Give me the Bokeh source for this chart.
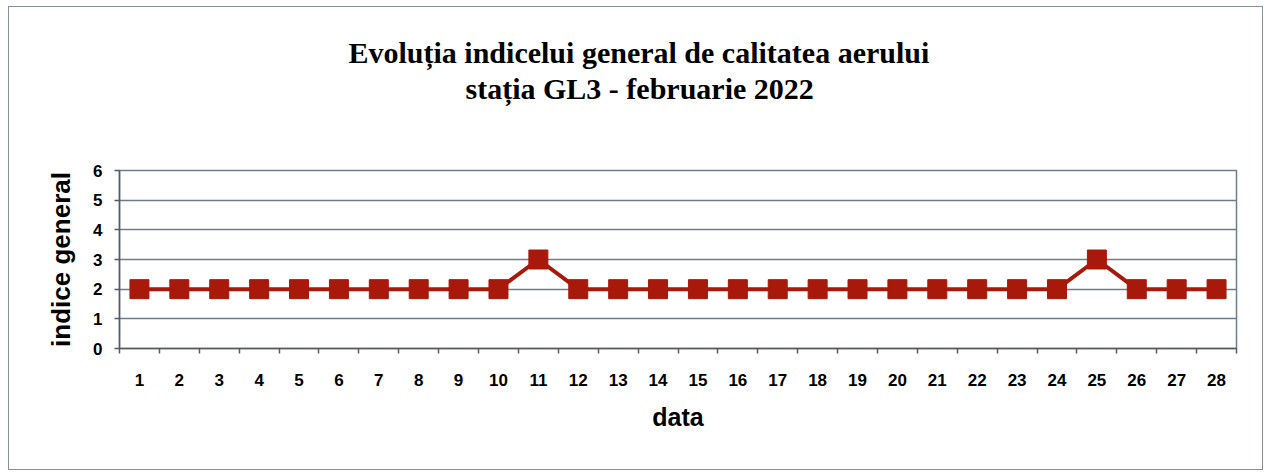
from bokeh.plotting import figure
from bokeh.models import FixedTicker, Title, Range1d
from bokeh.embed import file_html
from bokeh.resources import INLINE

# data
days = list(range(1, 29))
indice = [2, 2, 2, 2, 2, 2, 2, 2, 2, 2, 3, 2, 2, 2, 2, 2, 2, 2, 2, 2, 2, 2, 2, 2, 3, 2, 2, 2]
y_ticks = [0, 1, 2, 3, 4, 5, 6]
title_lines = ["Evoluția indicelui general de calitatea aerului", "stația GL3 - februarie 2022"]
x_label = "data"
y_label = "indice general"

RED = "#a8190c"
GRID = "#6f7c8a"
AXIS = "#555b62"

W, H = 1255, 464
p = figure(width=W, height=H, output_backend="svg", toolbar_location=None,
           x_range=Range1d(0.5, 28.5), y_range=Range1d(0, 6),
           min_border_left=110, min_border_right=W - 1227, min_border_top=163,
           min_border_bottom=H - 341)
p.styles = {"border": "1px solid #8a9099", "margin-left": "8px", "margin-top": "6px"}
p.background_fill_color = "white"
p.border_fill_color = "white"
p.outline_line_color = GRID
p.outline_line_width = 1.5

# axes
p.xaxis.ticker = FixedTicker(ticks=days, minor_ticks=[d + 0.5 for d in [0] + days])
p.xaxis.major_tick_line_color = None
p.xaxis.minor_tick_line_color = AXIS
p.xaxis.minor_tick_line_width = 1.5
p.xaxis.minor_tick_out = 5
p.xaxis.minor_tick_in = 0
p.xaxis.major_tick_out = 5
p.xaxis.major_tick_in = 0
p.xaxis.axis_line_color = AXIS
p.xaxis.axis_line_width = 1.5
p.xaxis.major_label_text_font = "Liberation Sans"
p.xaxis.major_label_text_font_style = "bold"
p.xaxis.major_label_text_font_size = "17px"
p.xaxis.major_label_text_color = "black"
p.xaxis.major_label_standoff = 20
p.xaxis.axis_label = x_label
p.xaxis.axis_label_text_font = "Liberation Sans"
p.xaxis.axis_label_text_font_style = "bold"
p.xaxis.axis_label_text_font_size = "25px"
p.xaxis.axis_label_text_color = "black"
p.xaxis.axis_label_standoff = 14

p.yaxis.ticker = FixedTicker(ticks=y_ticks, minor_ticks=[])
p.yaxis.major_tick_line_color = AXIS
p.yaxis.major_tick_line_width = 1.5
p.yaxis.major_tick_out = 5
p.yaxis.major_tick_in = 0
p.yaxis.axis_line_color = AXIS
p.yaxis.axis_line_width = 1.5
p.yaxis.major_label_text_font = "Liberation Sans"
p.yaxis.major_label_text_font_style = "bold"
p.yaxis.major_label_text_font_size = "17px"
p.yaxis.major_label_text_color = "black"
p.yaxis.major_label_standoff = 12
p.yaxis.axis_label = y_label
p.yaxis.axis_label_text_font = "Liberation Sans"
p.yaxis.axis_label_text_font_style = "bold"
p.yaxis.axis_label_text_font_size = "26px"
p.yaxis.axis_label_text_color = "black"
p.yaxis.axis_label_standoff = 14

p.xgrid.grid_line_color = None
p.ygrid.grid_line_color = GRID
p.ygrid.grid_line_width = 1.5

# series
p.line(days, indice, line_color=RED, line_width=4)
p.scatter(days, indice, marker="square", size=19, fill_color=RED, line_color=RED)

# spacer between plot area and title
p.add_layout(Title(text=" ", text_font_size="1px", standoff=62), "above")
# title lines (second line added first so it sits lower)
for txt, off, so in zip(reversed(title_lines), [346, 229], [2, 0]):
    p.add_layout(Title(text=txt, align="left", offset=off, standoff=so,
                       text_font="Liberation Serif", text_font_style="bold",
                       text_font_size="30px", text_color="black"), "above")

open("out.html", "w").write(file_html(p, INLINE))
